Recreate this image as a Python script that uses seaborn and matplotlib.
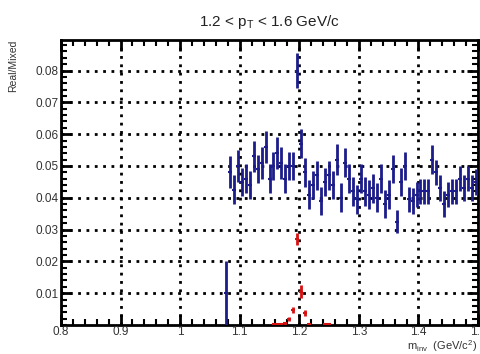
import numpy as np
import matplotlib
matplotlib.use("Agg")
import matplotlib.pyplot as plt
import seaborn as sns
from matplotlib.ticker import MultipleLocator, FixedLocator

# Real/Mixed ratio, bins of 1/150 GeV/c^2 starting at 1.08
edge_x = [1.0767]
edge_y = [0.010]
edge_err = [0.010]

blue_y = [0.048, 0.0425, 0.050, 0.045, 0.046, 0.044, 0.053, 0.049, 0.051, 0.056,
          0.046, 0.050, 0.054, 0.051, 0.046, 0.050, 0.050, 0.080, 0.057, 0.048,
          0.041, 0.044, 0.047, 0.039, 0.045, 0.047, 0.044, 0.052, 0.040, 0.051,
          0.046, 0.042, 0.0395, 0.046, 0.042, 0.041, 0.043, 0.040, 0.046, 0.038,
          0.041, 0.049, 0.0325, 0.045, 0.050, 0.0395, 0.039, 0.041, 0.042, 0.042,
          0.042, 0.052, 0.048, 0.043, 0.038, 0.041, 0.042, 0.042, 0.046, 0.043,
          0.046, 0.043, 0.045]
blue_err = [0.005, 0.0045, 0.005, 0.0045, 0.0045, 0.0045, 0.005, 0.0045, 0.005, 0.005,
            0.0045, 0.0045, 0.005, 0.005, 0.0045, 0.0045, 0.0045, 0.0055, 0.0045, 0.0045,
            0.0045, 0.0045, 0.0045, 0.0045, 0.0045, 0.0045, 0.0045, 0.005, 0.0045, 0.0045,
            0.0045, 0.0045, 0.0045, 0.0045, 0.0045, 0.0045, 0.0045, 0.0045, 0.0045, 0.0045,
            0.0045, 0.0045, 0.0037, 0.0045, 0.0045, 0.004, 0.004, 0.004, 0.004, 0.004,
            0.004, 0.0045, 0.004, 0.004, 0.004, 0.004, 0.004, 0.004, 0.004, 0.004,
            0.004, 0.004, 0.004]
blue_x = [1.08 + (k + 0.5) / 150 for k in range(len(blue_y))]

red_x = [1.1567, 1.1633, 1.1700, 1.1767, 1.1833, 1.1900, 1.1967, 1.2033, 1.2100,
         1.2167, 1.2433, 1.2500]
red_y = [0.0003, 0.0002, 0.0003, 0.0005, 0.0018, 0.0047, 0.0270, 0.0105, 0.0038,
         0.0003, 0.0002, 0.0003]
red_err = [0.0003, 0.0003, 0.0003, 0.0004, 0.0006, 0.0010, 0.0020, 0.0020, 0.0010,
           0.0003, 0.0003, 0.0003]

x_ticks = [0.8, 0.9, 1.0, 1.1, 1.2, 1.3, 1.4, 1.5]
x_tick_labels = ['0.8', '0.9', '1', '1.1', '1.2', '1.3', '1.4', '1.5']
y_ticks = [0.01, 0.02, 0.03, 0.04, 0.05, 0.06, 0.07, 0.08]
y_tick_labels = ['0.01', '0.02', '0.03', '0.04', '0.05', '0.06', '0.07', '0.08']

sns.set_style("ticks")
plt.rcParams['font.family'] = ['Liberation Sans', 'DejaVu Sans']
plt.rcParams['mathtext.default'] = 'regular'

fig = plt.figure(figsize=(4.8, 3.54), dpi=100)
ax = fig.add_axes([0.127, 0.082, 0.869, 0.805])

blue = '#1c1c8a'
red = '#d81010'

ax.errorbar(edge_x + blue_x, edge_y + blue_y, yerr=edge_err + blue_err, fmt='none',
            ecolor=blue, elinewidth=2, capsize=0, zorder=3)
sns.scatterplot(x=edge_x + blue_x, y=edge_y + blue_y, marker='_', s=12, color=blue,
                linewidth=1.5, ax=ax, zorder=4)
ax.errorbar(red_x, red_y, yerr=red_err, fmt='none', ecolor=red, elinewidth=2,
            capsize=0, zorder=3)
sns.scatterplot(x=red_x, y=red_y, marker='_', s=12, color=red, linewidth=1.5,
                ax=ax, zorder=4)

ax.set_xlim(0.8, 1.5)
ax.set_ylim(0, 0.0896)
ax.xaxis.set_major_locator(FixedLocator(x_ticks))
ax.xaxis.set_minor_locator(MultipleLocator(0.02))
ax.yaxis.set_major_locator(FixedLocator(y_ticks))
ax.yaxis.set_minor_locator(MultipleLocator(0.002))
ax.set_xticklabels(x_tick_labels)
ax.set_yticklabels(y_tick_labels)

ax.grid(True, which='major', color='black', linestyle=(0, (1, 2)), linewidth=2)
ax.set_axisbelow(False)
for sp in ax.spines.values():
    sp.set_visible(True)
    sp.set_linewidth(2)
    sp.set_color('black')

ax.tick_params(which='both', direction='in', top=True, right=True, colors='black',
               labelcolor='#333333', labelsize=8.5, pad=2)
ax.tick_params(axis='x', pad=1)
ax.tick_params(which='major', length=8, width=2)
ax.tick_params(which='minor', length=4, width=1.5)

ax.set_title('1.2 < p$_{T}$ < 1.6 GeV/c', fontsize=11, color='#222222', pad=10)
ax.set_ylabel('Real/Mixed', fontsize=7.5, color='#333333', loc='top', labelpad=12)
fig.text(0.995, 0.0, 'm$_{inv}$  (GeV/c$^{2}$)', fontsize=8, color='#333333',
         ha='right', va='bottom')

fig.savefig('out.png', dpi=100)
plt.close(fig)
